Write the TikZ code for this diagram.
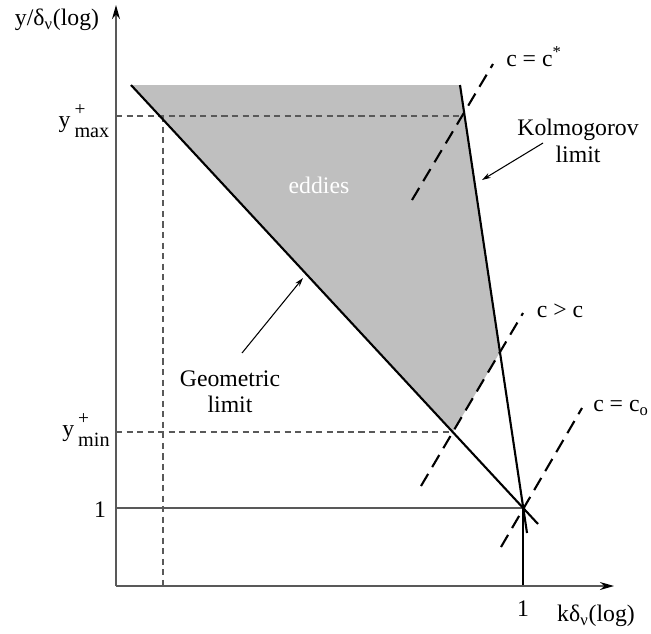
\documentclass[tikz,border=0pt]{standalone}
\usepackage{fontspec}
\setmainfont{Liberation Serif}
\usetikzlibrary{arrows.meta}
\newcommand{\supsub}[2]{\rlap{\raisebox{0.5em}{\fontsize{11}{11}\selectfont #1}}\raisebox{-0.42em}{\fontsize{11.5}{11}\selectfont #2}}

\begin{document}
\begin{tikzpicture}[x=0.02cm, y=-0.02cm,
    every node/.style={font=\fontsize{13.5}{15}\selectfont, inner sep=0pt, align=center},
    axis/.style={draw=black!65, line width=1.1pt, -{Stealth[length=8pt, width=4.5pt, black]}},
    guide/.style={draw=black!65, line width=0.7pt, dash pattern=on 3.5pt off 2.5pt},
    limit/.style={line width=1.2pt},
    cline/.style={line width=1.2pt, dash pattern=on 8pt off 4.5pt},
    pointer/.style={line width=0.6pt, -{Stealth[length=5pt, width=3pt]}}]

    \useasboundingbox (0,0) rectangle (651,633);

    % Key points (pixel grid, y downwards)
    \coordinate (origin) at (116,586);
    \coordinate (yTop) at (116,5);
    \coordinate (xEnd) at (614,586);
    \coordinate (unit) at (523,508);
    \coordinate (unitX) at (523,586);
    \coordinate (unitY) at (116,508);
    \coordinate (geoTop) at (131,85);
    \coordinate (geoEnd) at (538,524);
    \coordinate (kolTop) at (460,85);
    \coordinate (kolEnd) at (527,533);
    \coordinate (maxY) at (116,116);
    \coordinate (maxK) at (464,116);
    \coordinate (maxFoot) at (163,586);
    \coordinate (maxTop) at (163,116);
    \coordinate (minY) at (116,432);
    \coordinate (minG) at (453,432);
    \coordinate (cutK) at (500,352);

    % Eddy region
    \fill[gray!50] (geoTop) -- (kolTop) -- (cutK) -- (minG) -- cycle;
    \node[text=white] (eddies) at (319,185) {eddies};

    % Dashed guides
    \draw[guide] (maxY) -- (maxK);
    \draw[guide] (maxTop) -- (maxFoot);
    \draw[guide] (minY) -- (minG);

    % Unit lines
    \draw[draw=black!65, line width=0.8pt] (unitY) -- (unit);
    \draw[line width=0.6pt] (unit) -- (unitX);

    % Axes
    \draw[axis] (origin) -- (yTop);
    \draw[axis] (origin) -- (xEnd);

    % Limits
    \draw[limit] (geoTop) -- (geoEnd);
    \draw[limit] (kolTop) -- (kolEnd);

    % Constant c lines
    \coordinate (cStarA) at (412,200);
    \coordinate (cStarB) at (493,64);
    \coordinate (cGtA) at (421,486);
    \coordinate (cGtB) at (523,313);
    \coordinate (cZeroA) at (501,547);
    \coordinate (cZeroB) at (582,408);
    \draw[cline] (cStarA) -- (cStarB);
    \draw[cline] (cGtA) -- (cGtB);
    \draw[cline] (cZeroA) -- (cZeroB);

    % Labels
    \node (yLabel) at (57,20) {y/δ\textsubscript{ν}(log)};
    \node (kLabel) at (596,616) {kδ\textsubscript{ν}(log)};
    \node (yMax) at (84,121) {y\,\supsub{+}{max}};
    \node (yMin) at (86,430) {y\,\supsub{+}{min}};
    \node (oneY) at (100,510) {1};
    \node (oneX) at (523,609) {1};
    \node (cStar) at (534,57) {c = c\textsuperscript{*}};
    \node (cGt) at (560,311) {c > c};
    \node (cZero) at (621,408) {c = c\textsubscript{o}};
    \node (kolmo) at (578,141) {Kolmogorov\\limit};
    \node (geom) at (230,392) {Geometric\\limit};

    % Pointers
    \coordinate (kolFrom) at (543,143);
    \coordinate (kolTo) at (482,180);
    \coordinate (geoFrom) at (242,353);
    \coordinate (geoTo) at (303,278);
    \draw[pointer] (kolFrom) -- (kolTo);
    \draw[pointer] (geoFrom) -- (geoTo);
\end{tikzpicture}
\end{document}
